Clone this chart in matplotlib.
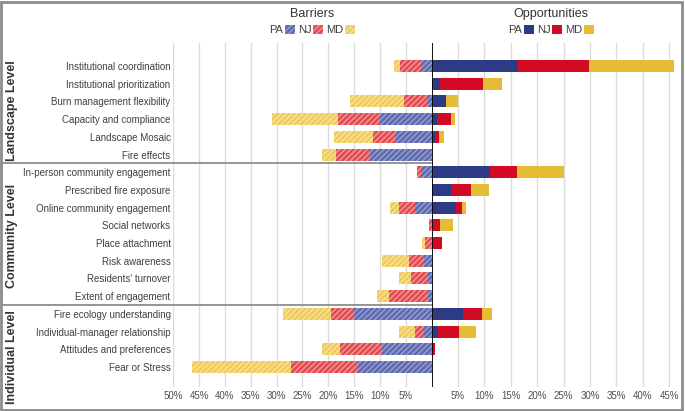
import matplotlib
matplotlib.use('Agg')
import matplotlib.pyplot as plt
from matplotlib.patches import Patch, Rectangle
from matplotlib.transforms import blended_transform_factory

plt.rcParams['font.family'] = ['Liberation Sans', 'DejaVu Sans']
plt.rcParams['hatch.linewidth'] = 1.0

# 数据（从图中估读，单位 %）
categories = ['Institutional coordination', 'Institutional prioritization',
              'Burn management flexibility', 'Capacity and compliance',
              'Landscape Mosaic', 'Fire effects',
              'In-person community engagement', 'Prescribed fire exposure',
              'Online community engagement', 'Social networks',
              'Place attachment', 'Risk awareness', "Residents' turnover",
              'Extent of engagement',
              'Fire ecology understanding', 'Individual-manager relationship',
              'Attitudes and preferences', 'Fear or Stress']
levels = ['Landscape Level', 'Community Level', 'Individual Level']
level_sizes = [6, 8, 4]

barrier_pa = [2.0, 0, 0.7, 10.0, 6.9, 11.9, 2.0, 0, 3.2, 0, 0, 1.5, 0.7, 0.7, 15.0, 1.5, 9.5, 14.3]
barrier_nj = [4.1, 0, 4.6, 8.1, 4.4, 6.5, 0.9, 0, 3.0, 0.5, 1.2, 2.9, 3.3, 7.6, 4.5, 1.7, 8.2, 12.9]
barrier_md = [1.1, 0, 10.5, 12.7, 7.5, 2.8, 0, 0, 1.8, 0, 0.6, 5.2, 2.3, 2.3, 9.2, 3.0, 3.5, 19.1]

opp_pa = [16.4, 1.6, 2.8, 1.1, 0.7, 0, 11.0, 3.7, 4.7, 0, 0, 0, 0, 0, 6.0, 1.3, 0, 0]
opp_nj = [13.4, 8.1, 0, 2.5, 0.8, 0, 5.2, 3.7, 1.1, 1.7, 2.0, 0, 0, 0, 3.5, 3.9, 0.7, 0]
opp_md = [16.0, 3.6, 2.3, 0.8, 0.8, 0, 8.8, 3.5, 0.8, 2.4, 0, 0, 0, 0, 2.0, 3.2, 0, 0]

states = ['PA', 'NJ', 'MD']
solid = ['#2d3a84', '#d20a24', '#e6bb35']
light = ['#5f6aae', '#e24a50', '#f0cb5a']
stripe = ['#98a0d0', '#f29a98', '#f8e2a0']

W, H = 685, 411
fig = plt.figure(figsize=(W / 100, H / 100), dpi=100)

x0, xz, x1 = 173.3, 431.5, 682.0
y_top, y_bot = 43, 387
ax_l = fig.add_axes([x0 / W, 1 - y_bot / H, (xz - x0) / W, (y_bot - y_top) / H])
ax_r = fig.add_axes([xz / W, 1 - y_bot / H, (x1 - xz) / W, (y_bot - y_top) / H], sharey=ax_l)

rows = list(range(len(categories)))
bh = 0.68

# 左侧：障碍（斜线填充）
left = [0.0] * len(rows)
for vals, fc, hc in zip([barrier_pa, barrier_nj, barrier_md], light, stripe):
    ax_l.barh(rows, [-v for v in vals], left=[-l for l in left], height=bh,
              color=fc, edgecolor=hc, hatch='//////', linewidth=0)
    left = [l + v for l, v in zip(left, vals)]

# 右侧：机会（实色）
left = [0.0] * len(rows)
for vals, c in zip([opp_pa, opp_nj, opp_md], solid):
    ax_r.barh(rows, vals, left=left, height=bh, color=c, linewidth=0)
    left = [l + v for l, v in zip(left, vals)]

ax_l.set_xlim(-50, 0)
ax_r.set_xlim(0, 47.4)
ax_l.set_ylim(18.13, -1.3)

ax_l.set_xticks(range(-50, 0, 5), [f'{-t}%' for t in range(-50, 0, 5)])
ax_r.set_xticks(range(5, 50, 5), [f'{t}%' for t in range(5, 50, 5)])
ax_l.set_yticks(rows, categories)

for ax in (ax_l, ax_r):
    for s in ax.spines.values():
        s.set_visible(False)
    ax.grid(axis='x', color='#dcdcdc', linewidth=1)
    ax.set_axisbelow(True)
    ax.tick_params(length=0, labelsize=7, colors='#505050', pad=3)
ax_l.tick_params(axis='y', pad=2, labelcolor='#404040')
ax_r.tick_params(axis='y', left=False, labelleft=False)

ax_r.axvline(0, color='black', linewidth=1.3, zorder=4)

# 分隔线与层级标签
trans = blended_transform_factory(fig.transFigure, ax_l.transData)
pos = 0
for n in level_sizes[:-1]:
    pos += n
    ax_l.plot([0.003, 0.997], [pos - 0.5, pos - 0.5], transform=trans,
              color='#8c8c8c', linewidth=1.3, clip_on=False, zorder=5)

level_y = [111, 236, 357]
for name, yy in zip(levels, level_y):
    fig.text(12 / W, 1 - yy / H, name, rotation=90, ha='center', va='center',
             fontsize=9, fontweight='bold', color='#333333')

# 图例
bar_handles = [Patch(facecolor=fc, edgecolor=hc, hatch='//////', linewidth=0)
               for fc, hc in zip(light, stripe)]
opp_handles = [Patch(facecolor=c, linewidth=0) for c in solid]
for handles, title, cx in [(bar_handles, 'Barriers', 312), (opp_handles, 'Opportunities', 551)]:
    leg = fig.legend(handles, states, title=title, loc='upper center',
                     bbox_to_anchor=(cx / W, 1 - 0 / H), ncol=3, frameon=False,
                     markerfirst=False, fontsize=8, title_fontsize=9,
                     handlelength=0.9, handleheight=0.9, handletextpad=0.15,
                     columnspacing=0.25, borderpad=0.2, labelspacing=0.45)
    leg.get_title().set_color('#333333')
    for t in leg.get_texts():
        t.set_color('#404040')

# 外框
fig.add_artist(Rectangle((0.002, 0.003), 0.994, 0.993, transform=fig.transFigure,
                         fill=False, edgecolor='#8c8c8c', linewidth=2))

fig.savefig('out.png', dpi=100)
